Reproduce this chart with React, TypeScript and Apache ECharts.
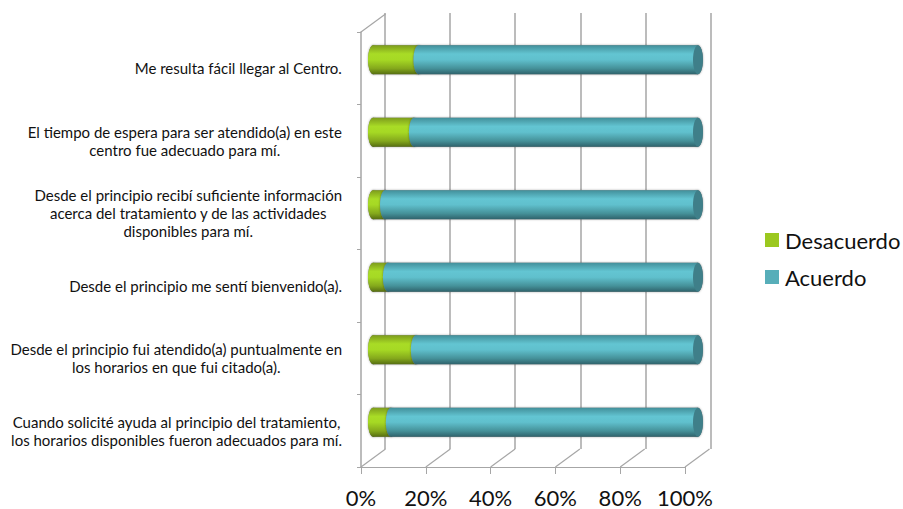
import React, { useEffect, useRef } from "react";
import * as echarts from "echarts";

const categories = [
  "Me resulta fácil llegar al Centro.",
  "El tiempo de espera para ser atendido(a) en este\ncentro fue adecuado para mí.",
  "Desde el principio recibí suficiente información\nacerca del tratamiento y de las actividades\ndisponibles para mí.",
  "Desde el principio me sentí bienvenido(a).",
  "Desde el principio fui atendido(a) puntualmente en\nlos horarios en que fui citado(a).",
  "Cuando solicité ayuda al principio del tratamiento,\nlos horarios disponibles fueron adecuados para mí.",
];
const desacuerdo = [14, 12.6, 3.7, 4.6, 13.2, 5.5];
const acuerdo = [86, 87.4, 96.3, 95.4, 86.8, 94.5];
const axisTicks = [0, 20, 40, 60, 80, 100];
const FONT = "Lato";
const GRAY = "#a6a6a6";

const vGrad = (stops: [number, string][]) =>
  new echarts.graphic.LinearGradient(0, 0, 0, 1, stops.map(([offset, color]) => ({ offset, color })));
const greenGrad = () => vGrad([[0, "#7d9c1c"], [0.3, "#a9dc26"], [0.5, "#a6d924"], [0.8, "#84a81c"], [1, "#566e12"]]);
const tealGrad = () => vGrad([[0, "#428f9a"], [0.3, "#63c5d2"], [0.5, "#60c0cd"], [0.8, "#459199"], [1, "#2f626b"]]);

const cylinder = (fill: () => any, withCap: boolean) => (_p: any, api: any) => {
  const a = api.coord([api.value(0), api.value(2)]);
  const b = api.coord([api.value(1), api.value(2)]);
  const h = api.size([0, 1])[1] * 0.4;
  const y = a[1] - h / 2;
  const rx = 5;
  const halo = { fill: "#777777", shadowColor: "rgba(0,0,0,0.35)", shadowBlur: 2 };
  const startEllipse = { cx: a[0], cy: a[1], rx, ry: h / 2 };
  const body = { x: a[0], y, width: b[0] - a[0], height: h };
  const capEllipse = { cx: b[0], cy: b[1], rx, ry: h / 2 };
  const children: any[] = [
    { type: "ellipse", shape: startEllipse, style: halo },
    { type: "rect", shape: body, style: halo },
  ];
  if (withCap) children.push({ type: "ellipse", shape: capEllipse, style: halo });
  children.push(
    { type: "ellipse", shape: startEllipse, style: { fill: fill() } },
    { type: "rect", shape: body, style: { fill: fill() } },
  );
  if (withCap) children.push({ type: "ellipse", shape: capEllipse, style: { fill: "#3f7f89" } });
  return { type: "group", children };
};

const stacked = (name: string, values: number[], base: number[], color: string, fill: () => any, cap: boolean) => ({
  type: "custom",
  name,
  xAxisIndex: 2,
  yAxisIndex: 2,
  clip: false,
  encode: { x: [0, 1], y: 2 },
  itemStyle: { color },
  renderItem: cylinder(fill, cap),
  data: values.map((v, i) => [base[i], base[i] + v, i]),
});

export default function App() {
  const ref = useRef<HTMLDivElement>(null);
  useEffect(() => {
    const chart = echarts.init(ref.current!, undefined, { renderer: "svg" });
    const depthX = 24.5;
    const depthY = -18;
    chart.setOption({
      animation: false,
      backgroundColor: "#ffffff",
      textStyle: { fontFamily: FONT },
      legend: {
        orient: "vertical",
        left: 760,
        top: 223,
        itemWidth: 14,
        itemHeight: 14,
        itemGap: 13,
        icon: "rect",
        data: ["Desacuerdo", "Acuerdo"],
        textStyle: { fontFamily: FONT, fontSize: 22, color: "#111111", lineHeight: 24, padding: [0, 0, 0, 1] },
      },
      grid: [
        { left: 361, top: 32, width: 324, height: 435 },
        { left: 385, top: 13, width: 325.5, height: 436 },
        { left: 373, top: 23.5, width: 325, height: 435 },
      ],
      xAxis: [
        {
          gridIndex: 0, type: "value", min: 0, max: 100, interval: 20,
          axisLine: { show: true, onZero: false, lineStyle: { color: GRAY, width: 1 } },
          axisTick: { show: true, length: 7, lineStyle: { color: GRAY } },
          splitLine: { show: false },
          axisLabel: { formatter: "{value}%", fontFamily: FONT, fontSize: 22, color: "#111111", margin: 19 },
        },
        {
          gridIndex: 1, type: "value", min: 0, max: 100, interval: 20,
          axisLine: { show: false }, axisTick: { show: false }, axisLabel: { show: false },
          splitLine: { show: true, lineStyle: { color: GRAY, width: 1.5 } },
        },
        {
          gridIndex: 2, type: "value", min: 0, max: 100, interval: 20,
          axisLine: { show: false }, axisTick: { show: false }, axisLabel: { show: false },
          splitLine: { show: false },
        },
      ],
      yAxis: [
        {
          gridIndex: 0, type: "category", inverse: true, data: categories,
          axisLine: { show: true, lineStyle: { color: GRAY, width: 1.5 } },
          axisTick: { show: true, length: 4, lineStyle: { color: GRAY } },
          axisLabel: {
            margin: 19,
            interval: 0,
            color: "#111111",
            fontFamily: FONT,
            fontSize: 15,
            lineHeight: 18,
            formatter: (v: string) => v.split("\n").map((l) => `{c|${l}}`).join("\n"),
            rich: { c: { align: "center", fontFamily: FONT, fontSize: 15, lineHeight: 18, color: "#111111" } },
          },
        },
        { gridIndex: 1, type: "category", inverse: true, data: categories, show: false },
        { gridIndex: 2, type: "category", inverse: true, data: categories, show: false },
      ],
      series: [
        {
          type: "custom",
          name: "depth",
          xAxisIndex: 0,
          yAxisIndex: 0,
          clip: false,
          silent: true,
          encode: { x: 0 },
          renderItem: (p: any, api: any) => {
            const x = api.coord([api.value(0), 0])[0];
            const cs = p.coordSys;
            const y = api.value(1) === 1 ? cs.y : cs.y + cs.height;
            return {
              type: "line",
              shape: { x1: x, y1: y, x2: x + depthX, y2: y + depthY },
              style: { stroke: GRAY, lineWidth: 1.2 },
            };
          },
          data: [...axisTicks.map((t) => [t, 0]), [axisTicks[0], 1]],
        },
        stacked("Desacuerdo", desacuerdo, desacuerdo.map(() => 0), "#9bc81f", greenGrad, false),
        stacked("Acuerdo", acuerdo, desacuerdo, "#57aeb9", tealGrad, true),
      ],
    });
    return () => chart.dispose();
  }, []);
  return <div ref={ref} style={{ position: "absolute", left: 0, top: 0, width: 903, height: 509 }} />;
}
